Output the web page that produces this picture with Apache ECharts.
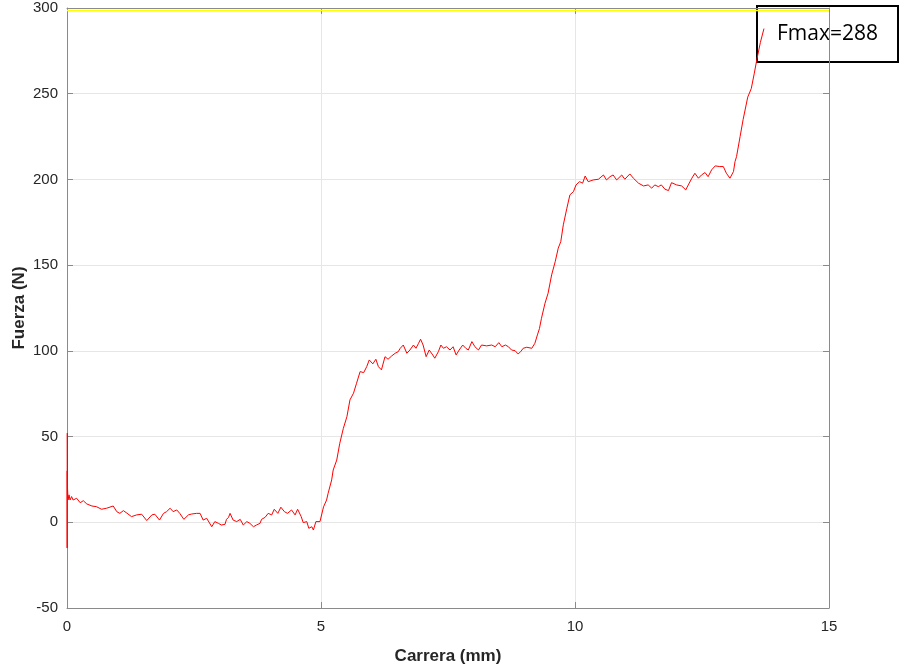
<!DOCTYPE html>
<html>
<head>
<meta charset="utf-8">
<script src="https://cdn.jsdelivr.net/npm/echarts@6/dist/echarts.min.js"></script>
<style>
  html, body { margin: 0; padding: 0; background: #fff; }
  #chart { width: 899px; height: 667px; }
</style>
</head>
<body>
<div id="chart"></div>
<script>
// Stroke (mm) and force (N) samples of the load curve
const carrera = [
  0, 0.003, 0.006, 0.01, 0.02, 0.04, 0.06, 0.09, 0.12, 0.19, 0.26, 0.32, 0.39, 0.49, 0.58, 0.68, 0.78, 0.91, 0.98,
  1.04, 1.11, 1.18, 1.27, 1.37, 1.47, 1.57, 1.67, 1.73, 1.82, 1.90, 1.96, 2.03, 2.09, 2.16, 2.22, 2.30, 2.39, 2.45,
  2.55, 2.62, 2.68, 2.75, 2.85, 2.91, 2.98, 3.04, 3.11, 3.14, 3.18, 3.21, 3.27, 3.34, 3.41, 3.47, 3.54, 3.60, 3.67,
  3.73, 3.80, 3.83, 3.90, 3.96, 4.03, 4.08, 4.15, 4.21, 4.28, 4.34, 4.42, 4.49, 4.54, 4.61, 4.65, 4.72, 4.76, 4.82,
  4.85, 4.90, 4.98, 5.01, 5.05, 5.11, 5.14, 5.21, 5.24, 5.31, 5.37, 5.44, 5.51, 5.57, 5.64, 5.70, 5.77, 5.84, 5.90,
  5.95, 6.02, 6.08, 6.13, 6.19, 6.26, 6.32, 6.39, 6.46, 6.52, 6.56, 6.62, 6.69, 6.75, 6.82, 6.87, 6.92, 6.96, 7.01,
  7.07, 7.13, 7.20, 7.24, 7.31, 7.36, 7.41, 7.47, 7.54, 7.60, 7.66, 7.72, 7.79, 7.85, 7.90, 7.97, 8.03, 8.10, 8.16,
  8.26, 8.36, 8.43, 8.50, 8.56, 8.63, 8.69, 8.75, 8.82, 8.88, 8.93, 8.98, 9.05, 9.15, 9.21, 9.26, 9.30, 9.34, 9.41,
  9.47, 9.54, 9.61, 9.67, 9.72, 9.77, 9.84, 9.90, 9.97, 10.02, 10.09, 10.15, 10.20, 10.26, 10.36, 10.46, 10.56,
  10.62, 10.69, 10.75, 10.82, 10.92, 10.98, 11.08, 11.15, 11.25, 11.35, 11.44, 11.51, 11.57, 11.64, 11.70, 11.77,
  11.84, 11.90, 12.00, 12.10, 12.18, 12.23, 12.30, 12.36, 12.43, 12.49, 12.56, 12.62, 12.69, 12.76, 12.85, 12.92,
  12.98, 13.05, 13.12, 13.15, 13.18, 13.25, 13.31, 13.40, 13.47, 13.53, 13.58, 13.65, 13.72
];
const fuerza = [
  30, -15, 52, 20, 13, 16, 13, 15, 13, 14, 11.4, 12.6, 10.7, 9.5, 9.1, 7.6, 8.2, 9.5, 6.2,
  5.2, 6.8, 5.3, 3.3, 4.3, 4.7, 1, 4.3, 4.7, 1.3, 5.2, 6.2, 8.2, 6.2, 7.2, 5.2, 1.7, 4.3, 4.8,
  5.2, 5.2, 1.3, 2.3, -2.6, 0.4, -0.6, -1.6, -1.2, 1.7, 2.9, 5.2, 1.3, 0.4, 1.7, -1.6, 0.4, -0.6, -2.6,
  -1.6, -0.6, 1.7, 2.9, 5.2, 4.3, 7.6, 5.2, 8.8, 6.2, 5.2, 7.2, 4.3, 7.6, 3.3, -0.2, 0.4, -3.5, -2.6,
  -4.5, 0.4, 0.4, 0.4, 9, 13, 16.9, 24.7, 30.5, 36.3, 46.1, 54.8, 61.6, 71.4, 75.3, 81.1, 87.9, 87.3, 90.8,
  94.7, 92.4, 95.1, 90.8, 88.9, 96.6, 95.1, 97, 98.6, 99.5, 101.5, 103.4, 98.6, 100.5, 103.4, 101.5, 104.4, 106.8, 103.4,
  96.6, 100.5, 97.6, 95.7, 99.5, 103.4, 101.5, 102.4, 100.5, 102.4, 97.6, 100.5, 103.4, 101.5, 100.5, 105.4, 102.4, 100.5, 103.4,
  102.9, 103.4, 102.4, 104.8, 102.4, 103.4, 102.4, 100.5, 100.1, 98.2, 99.5, 101.5, 102.1, 101.5, 104.4, 109.3, 113, 119, 127.8,
  133.6, 144.3, 152, 159.9, 163.7, 173.5, 183.2, 191, 192.9, 196.8, 198.7, 197.8, 202, 198.7, 199.7, 200.1, 202.6,
  199.7, 201.6, 202.6, 199.7, 202.6, 200.1, 203.2, 200.7, 197.8, 196.2, 196.8, 194.9, 196.8, 195.8, 196.8, 194.3,
  193.5, 198.1, 196.8, 196.2, 193.9, 196.8, 200.7, 203.6, 200.7, 202.6, 204, 201.6, 205.6, 207.9, 207.5, 207.5,
  203.6, 200.7, 204.6, 210.4, 213.3, 225, 235, 248, 253, 262, 270, 280, 288
];
// Reference level drawn in yellow across the full stroke range
const limiteX = [0, 15];
const limiteY = [298.5, 298.5];

// Axis ranges
const xRange = { min: 0, max: 15, step: 5 };
const yRange = { min: -50, max: 300, step: 50 };

const fmax = Math.max(...fuerza);

const curve = carrera.map((x, i) => [x, fuerza[i]]);
const limite = limiteX.map((x, i) => [x, limiteY[i]]);

const axisGrey = '#8a8a8a';
const labelColor = '#262626';
const font = 'Liberation Sans, Arial, sans-serif';

const chart = echarts.init(document.getElementById('chart'), null, { renderer: 'canvas' });

chart.setOption({
  animation: false,
  backgroundColor: '#ffffff',
  grid: { left: 67, right: 70, top: 8, bottom: 59, containLabel: false, outerBoundsMode: 'none' },
  xAxis: [
    {
      type: 'value', min: xRange.min, max: xRange.max, interval: xRange.step,
      name: 'Carrera (mm)', nameLocation: 'middle', nameGap: 40,
      nameTextStyle: { fontFamily: font, fontSize: 17, fontWeight: 'bold', color: labelColor },
      axisLine: { show: true, onZero: false, lineStyle: { color: axisGrey, width: 1 } },
      axisTick: { show: true, inside: true, length: 6, lineStyle: { color: axisGrey } },
      axisLabel: { fontFamily: font, fontSize: 15, color: labelColor, margin: 11 },
      splitLine: { show: true, lineStyle: { color: '#e6e6e6', width: 1 } }
    },
    {
      type: 'value', position: 'top', min: xRange.min, max: xRange.max, interval: xRange.step,
      axisLine: { show: true, onZero: false, lineStyle: { color: axisGrey, width: 1 } },
      axisTick: { show: true, inside: true, length: 6, lineStyle: { color: axisGrey } },
      axisLabel: { show: false }, splitLine: { show: false }
    }
  ],
  yAxis: [
    {
      type: 'value', min: yRange.min, max: yRange.max, interval: yRange.step,
      name: 'Fuerza (N)', nameLocation: 'middle', nameGap: 39, nameMoveOverlap: false,
      nameTextStyle: { fontFamily: font, fontSize: 17, fontWeight: 'bold', color: labelColor },
      axisLine: { show: true, onZero: false, lineStyle: { color: axisGrey, width: 1 } },
      axisTick: { show: true, inside: true, length: 6, lineStyle: { color: axisGrey } },
      axisLabel: { fontFamily: font, fontSize: 15, color: labelColor, margin: 9 },
      splitLine: { show: true, lineStyle: { color: '#e6e6e6', width: 1 } }
    },
    {
      type: 'value', position: 'right', min: yRange.min, max: yRange.max, interval: yRange.step,
      axisLine: { show: true, onZero: false, lineStyle: { color: axisGrey, width: 1 } },
      axisTick: { show: true, inside: true, length: 6, lineStyle: { color: axisGrey } },
      axisLabel: { show: false }, splitLine: { show: false }
    }
  ],
  series: [
    {
      name: 'limite', type: 'line', data: limite, showSymbol: false, symbol: 'none',
      lineStyle: { color: '#ffff00', width: 1.5 }, z: 2
    },
    {
      name: 'fuerza', type: 'line', data: curve, showSymbol: false, symbol: 'none',
      lineStyle: { color: '#ff0000', width: 1 }, z: 3
    }
  ],
  graphic: [
    {
      type: 'group', left: 756, top: 5, z: 100,
      children: [
        { type: 'rect', shape: { x: 0, y: 0, width: 141, height: 56 },
          style: { fill: '#ffffff', stroke: '#000000', lineWidth: 2 } },
        { type: 'text', x: 70.5, y: 28,
          style: { text: 'Fmax=' + fmax, fill: '#000000', font: '21px "Open Sans", sans-serif',
                   align: 'center', verticalAlign: 'middle' } }
      ]
    }
  ]
});
</script>
</body>
</html>
